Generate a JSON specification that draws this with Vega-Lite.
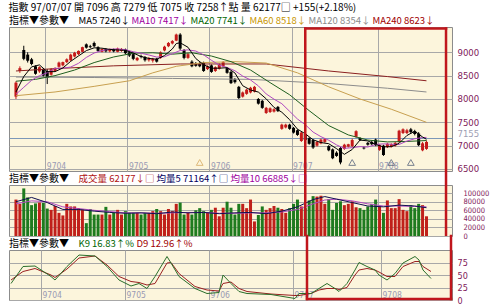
{
"$schema": "https://vega.github.io/schema/vega-lite/v6.json",
"background": "white",
"padding": {"left": 8, "top": 2, "right": 0, "bottom": 0},
"bounds": "flush",
"spacing": 14,
"resolve": {"scale": {"color": "independent", "stroke": "independent"}, "legend": {"color": "independent", "stroke": "independent"}},
"title": {"text": "指數 97/07/07 開 7096 高 7279 低 7075 收 7258↑點 量 62177□ +155(+2.18%)", "anchor": "start", "font": "Noto Sans CJK TC", "fontSize": 10, "fontWeight": "normal", "color": "#000000", "offset": 3},
"config": {
  "view": {"fill": "#fcf5dc", "stroke": "#8c8c8c"},
  "axis": {"ticks": false, "domain": false, "grid": true, "gridColor": "#a8a8a8", "gridWidth": 1, "title": null, "labelOverlap": false, "tickCount": 20},
  "legend": {"orient": "top", "direction": "horizontal", "gridAlign": "none", "titleOrient": "left", "titleFont": "Noto Sans CJK TC", "titleFontSize": 10, "titleFontWeight": "normal", "titleColor": "#000000", "titlePadding": 10, "labelFont": "Noto Sans CJK TC", "labelFontSize": 9.5, "symbolSize": 0, "symbolOpacity": 0, "symbolStrokeWidth": 0, "labelOffset": -10, "columnPadding": 1, "padding": 0, "offset": 1}
},
"datasets": {
"k": [
{"i":0,"o":8050,"h":8380,"l":8000,"c":8350,"v":85000},
{"i":1,"o":8600,"h":8700,"l":8560,"c":8660,"v":75000},
{"i":2,"o":9050,"h":9140,"l":8830,"c":8860,"v":111000},
{"i":3,"o":8950,"h":9000,"l":8780,"c":8820,"v":90000},
{"i":4,"o":8850,"h":8880,"l":8720,"c":8750,"v":72000},
{"i":5,"o":8700,"h":8720,"l":8520,"c":8540,"v":76000},
{"i":6,"o":8590,"h":8700,"l":8560,"c":8680,"v":78000},
{"i":7,"o":8640,"h":8660,"l":8480,"c":8500,"v":77000},
{"i":8,"o":8600,"h":8640,"l":8320,"c":8450,"v":64000},
{"i":9,"o":8520,"h":8660,"l":8500,"c":8640,"v":61000},
{"i":10,"o":8600,"h":8680,"l":8580,"c":8660,"v":70000},
{"i":11,"o":8690,"h":8800,"l":8670,"c":8780,"v":54000},
{"i":12,"o":8720,"h":8800,"l":8700,"c":8790,"v":48000},
{"i":13,"o":8790,"h":8870,"l":8770,"c":8850,"v":75000},
{"i":14,"o":8830,"h":8970,"l":8810,"c":8950,"v":69000},
{"i":15,"o":8910,"h":9010,"l":8890,"c":8990,"v":69000},
{"i":16,"o":8960,"h":9040,"l":8940,"c":9030,"v":65000},
{"i":17,"o":9010,"h":9120,"l":9000,"c":9110,"v":62000},
{"i":18,"o":9170,"h":9190,"l":9080,"c":9100,"v":30000},
{"i":19,"o":9130,"h":9160,"l":9090,"c":9110,"v":63000},
{"i":20,"o":9200,"h":9230,"l":9110,"c":9130,"v":50000},
{"i":21,"o":9110,"h":9130,"l":9010,"c":9030,"v":50000},
{"i":22,"o":9010,"h":9080,"l":9000,"c":9070,"v":50000},
{"i":23,"o":9070,"h":9090,"l":9000,"c":9020,"v":68000},
{"i":24,"o":9020,"h":9080,"l":9000,"c":9060,"v":50000},
{"i":25,"o":9060,"h":9080,"l":9000,"c":9020,"v":54000},
{"i":26,"o":9010,"h":9100,"l":9000,"c":9080,"v":61000},
{"i":27,"o":9030,"h":9090,"l":9010,"c":9070,"v":50000},
{"i":28,"o":9060,"h":9080,"l":8960,"c":8980,"v":58000},
{"i":29,"o":9000,"h":9020,"l":8900,"c":8930,"v":54000},
{"i":30,"o":8960,"h":8990,"l":8830,"c":8860,"v":54000},
{"i":31,"o":8830,"h":8900,"l":8810,"c":8880,"v":54000},
{"i":32,"o":8920,"h":8950,"l":8870,"c":8900,"v":50000},
{"i":33,"o":8900,"h":8920,"l":8800,"c":8830,"v":54000},
{"i":34,"o":8830,"h":8900,"l":8800,"c":8870,"v":54000},
{"i":35,"o":8820,"h":8880,"l":8780,"c":8860,"v":58000},
{"i":36,"o":8860,"h":8880,"l":8780,"c":8800,"v":63000},
{"i":37,"o":8880,"h":9020,"l":8860,"c":9000,"v":58000},
{"i":38,"o":9040,"h":9140,"l":9020,"c":9120,"v":50000},
{"i":39,"o":9130,"h":9220,"l":9110,"c":9200,"v":63000},
{"i":40,"o":9190,"h":9260,"l":9170,"c":9240,"v":58000},
{"i":41,"o":9250,"h":9400,"l":9240,"c":9380,"v":75000},
{"i":42,"o":9380,"h":9410,"l":9050,"c":9080,"v":78000},
{"i":43,"o":9050,"h":9070,"l":8850,"c":8880,"v":50000},
{"i":44,"o":8880,"h":8990,"l":8860,"c":8960,"v":54000},
{"i":45,"o":8800,"h":8830,"l":8680,"c":8700,"v":50000},
{"i":46,"o":8760,"h":8790,"l":8690,"c":8710,"v":60000},
{"i":47,"o":8760,"h":8790,"l":8680,"c":8700,"v":65000},
{"i":48,"o":8780,"h":8800,"l":8580,"c":8600,"v":58000},
{"i":49,"o":8640,"h":8720,"l":8620,"c":8700,"v":54000},
{"i":50,"o":8720,"h":8740,"l":8560,"c":8580,"v":61000},
{"i":51,"o":8600,"h":8700,"l":8580,"c":8680,"v":66000},
{"i":52,"o":8650,"h":8760,"l":8630,"c":8740,"v":46000},
{"i":53,"o":8700,"h":8810,"l":8680,"c":8790,"v":66000},
{"i":54,"o":8660,"h":8680,"l":8540,"c":8560,"v":80000},
{"i":55,"o":8580,"h":8600,"l":8320,"c":8340,"v":66000},
{"i":56,"o":8420,"h":8450,"l":8330,"c":8360,"v":50000},
{"i":57,"o":8260,"h":8280,"l":8000,"c":8020,"v":75000},
{"i":58,"o":8050,"h":8160,"l":8030,"c":8140,"v":75000},
{"i":59,"o":8110,"h":8220,"l":8090,"c":8200,"v":65000},
{"i":60,"o":8140,"h":8260,"l":8120,"c":8240,"v":85000},
{"i":61,"o":8160,"h":8280,"l":8140,"c":8260,"v":34000},
{"i":62,"o":8000,"h":8020,"l":7880,"c":7900,"v":49000},
{"i":63,"o":7960,"h":7980,"l":7790,"c":7810,"v":69000},
{"i":64,"o":7700,"h":7830,"l":7680,"c":7810,"v":61000},
{"i":65,"o":7720,"h":7820,"l":7700,"c":7800,"v":65000},
{"i":66,"o":7730,"h":7800,"l":7710,"c":7780,"v":70000},
{"i":67,"o":7830,"h":7850,"l":7720,"c":7740,"v":66000},
{"i":68,"o":7360,"h":7470,"l":7340,"c":7450,"v":63000},
{"i":69,"o":7390,"h":7470,"l":7370,"c":7450,"v":54000},
{"i":70,"o":7450,"h":7470,"l":7340,"c":7360,"v":65000},
{"i":71,"o":7380,"h":7400,"l":7260,"c":7280,"v":75000},
{"i":72,"o":7330,"h":7350,"l":7210,"c":7230,"v":85000},
{"i":73,"o":7100,"h":7300,"l":7080,"c":7280,"v":69000},
{"i":74,"o":7250,"h":7270,"l":7100,"c":7120,"v":65000},
{"i":75,"o":7160,"h":7180,"l":7020,"c":7040,"v":83000},
{"i":76,"o":7120,"h":7140,"l":6930,"c":6960,"v":93000},
{"i":77,"o":7000,"h":7100,"l":6980,"c":7080,"v":92000},
{"i":78,"o":7050,"h":7150,"l":7030,"c":7130,"v":94000},
{"i":79,"o":7080,"h":7160,"l":7060,"c":7140,"v":75000},
{"i":80,"o":6990,"h":7010,"l":6880,"c":6900,"v":86000},
{"i":81,"o":6920,"h":6940,"l":6710,"c":6730,"v":61000},
{"i":82,"o":6850,"h":6880,"l":6760,"c":6780,"v":77000},
{"i":83,"o":6950,"h":6970,"l":6600,"c":6640,"v":81000},
{"i":84,"o":6930,"h":7040,"l":6910,"c":7020,"v":72000},
{"i":85,"o":6980,"h":7040,"l":6960,"c":7030,"v":75000},
{"i":86,"o":6990,"h":7150,"l":6970,"c":7120,"v":81000},
{"i":87,"o":7190,"h":7330,"l":7170,"c":7310,"v":67000},
{"i":88,"o":7160,"h":7180,"l":7100,"c":7120,"v":65000},
{"i":89,"o":6960,"h":6980,"l":6920,"c":6940,"v":61000},
{"i":90,"o":7060,"h":7080,"l":7000,"c":7020,"v":69000},
{"i":91,"o":7080,"h":7110,"l":7010,"c":7030,"v":75000},
{"i":92,"o":7130,"h":7150,"l":6990,"c":7010,"v":85000},
{"i":93,"o":6910,"h":7030,"l":6890,"c":7010,"v":69000},
{"i":94,"o":7000,"h":7020,"l":6780,"c":6800,"v":54000},
{"i":95,"o":6970,"h":7060,"l":6950,"c":7040,"v":83000},
{"i":96,"o":6980,"h":7050,"l":6960,"c":7030,"v":65000},
{"i":97,"o":7000,"h":7080,"l":6980,"c":7060,"v":65000},
{"i":98,"o":7080,"h":7340,"l":7060,"c":7320,"v":86000},
{"i":99,"o":7270,"h":7370,"l":7250,"c":7350,"v":61000},
{"i":100,"o":7270,"h":7360,"l":7250,"c":7330,"v":58000},
{"i":101,"o":7350,"h":7380,"l":7260,"c":7290,"v":72000},
{"i":102,"o":7310,"h":7340,"l":7220,"c":7250,"v":65000},
{"i":103,"o":7260,"h":7290,"l":6990,"c":7010,"v":75000},
{"i":104,"o":6900,"h":7080,"l":6880,"c":7050,"v":72000},
{"i":105,"o":6930,"h":7110,"l":6910,"c":7080,"v":46000}
],
"ma": [
{"s":"MA240","i":0,"p":8600},{"s":"MA240","i":10,"p":8650},{"s":"MA240","i":25,"p":8710},{"s":"MA240","i":42,"p":8750},{"s":"MA240","i":64,"p":8750},{"s":"MA240","i":80,"p":8600},{"s":"MA240","i":95,"p":8480},{"s":"MA240","i":105,"p":8390},
{"s":"MA120","i":0,"p":8470},{"s":"MA120","i":20,"p":8460},{"s":"MA120","i":40,"p":8440},{"s":"MA120","i":60,"p":8420},{"s":"MA120","i":80,"p":8330},{"s":"MA120","i":95,"p":8230},{"s":"MA120","i":105,"p":8150},
{"s":"MA60","i":0,"p":8070},{"s":"MA60","i":10,"p":8150},{"s":"MA60","i":20,"p":8270},{"s":"MA60","i":29,"p":8390},{"s":"MA60","i":35,"p":8560},{"s":"MA60","i":41,"p":8700},{"s":"MA60","i":48,"p":8780},{"s":"MA60","i":56,"p":8800},{"s":"MA60","i":64,"p":8770},{"s":"MA60","i":72,"p":8560},{"s":"MA60","i":80,"p":8260},{"s":"MA60","i":88,"p":8000},{"s":"MA60","i":96,"p":7780},{"s":"MA60","i":105,"p":7500},
{"s":"MA20","i":0,"p":8380},{"s":"MA20","i":5,"p":8420},{"s":"MA20","i":10,"p":8500},{"s":"MA20","i":15,"p":8620},{"s":"MA20","i":20,"p":8780},{"s":"MA20","i":25,"p":8900},{"s":"MA20","i":30,"p":8980},{"s":"MA20","i":35,"p":8990},{"s":"MA20","i":40,"p":8960},{"s":"MA20","i":45,"p":8990},{"s":"MA20","i":50,"p":8920},{"s":"MA20","i":55,"p":8800},{"s":"MA20","i":60,"p":8620},{"s":"MA20","i":65,"p":8350},{"s":"MA20","i":70,"p":8090},{"s":"MA20","i":75,"p":7750},{"s":"MA20","i":80,"p":7430},{"s":"MA20","i":85,"p":7230},{"s":"MA20","i":90,"p":7120},{"s":"MA20","i":95,"p":7080},{"s":"MA20","i":100,"p":7090},{"s":"MA20","i":105,"p":7110},
{"s":"MA10","i":0,"p":8100},{"s":"MA10","i":2,"p":8250},{"s":"MA10","i":4,"p":8400},{"s":"MA10","i":6,"p":8500},{"s":"MA10","i":8,"p":8560},{"s":"MA10","i":10,"p":8656},{"s":"MA10","i":12,"p":8661},{"s":"MA10","i":14,"p":8684},{"s":"MA10","i":16,"p":8764},{"s":"MA10","i":18,"p":8890},{"s":"MA10","i":20,"p":8984},{"s":"MA10","i":22,"p":9037},{"s":"MA10","i":24,"p":9065},{"s":"MA10","i":26,"p":9073},{"s":"MA10","i":28,"p":9057},{"s":"MA10","i":30,"p":9012},{"s":"MA10","i":32,"p":8980},{"s":"MA10","i":34,"p":8942},{"s":"MA10","i":36,"p":8898},{"s":"MA10","i":38,"p":8905},{"s":"MA10","i":40,"p":8970},{"s":"MA10","i":42,"p":9038},{"s":"MA10","i":44,"p":9052},{"s":"MA10","i":46,"p":9027},{"s":"MA10","i":48,"p":8945},{"s":"MA10","i":50,"p":8829},{"s":"MA10","i":52,"p":8725},{"s":"MA10","i":54,"p":8676},{"s":"MA10","i":56,"p":8605},{"s":"MA10","i":58,"p":8491},{"s":"MA10","i":60,"p":8407},{"s":"MA10","i":62,"p":8281},{"s":"MA10","i":64,"p":8108},{"s":"MA10","i":66,"p":7996},{"s":"MA10","i":68,"p":7899},{"s":"MA10","i":70,"p":7736},{"s":"MA10","i":72,"p":7571},{"s":"MA10","i":74,"p":7449},{"s":"MA10","i":76,"p":7291},{"s":"MA10","i":78,"p":7193},{"s":"MA10","i":80,"p":7116},{"s":"MA10","i":82,"p":7016},{"s":"MA10","i":84,"p":6942},{"s":"MA10","i":86,"p":6957},{"s":"MA10","i":88,"p":6979},{"s":"MA10","i":90,"p":6971},{"s":"MA10","i":92,"p":7024},{"s":"MA10","i":94,"p":7039},{"s":"MA10","i":96,"p":7031},{"s":"MA10","i":98,"p":7026},{"s":"MA10","i":100,"p":7098},{"s":"MA10","i":102,"p":7148},{"s":"MA10","i":104,"p":7173},{"s":"MA10","i":105,"p":7177},
{"s":"MA5","i":0,"p":8150},{"s":"MA5","i":2,"p":8480},{"s":"MA5","i":4,"p":8688},{"s":"MA5","i":6,"p":8730},{"s":"MA5","i":8,"p":8584},{"s":"MA5","i":10,"p":8586},{"s":"MA5","i":12,"p":8664},{"s":"MA5","i":14,"p":8806},{"s":"MA5","i":16,"p":8922},{"s":"MA5","i":18,"p":9036},{"s":"MA5","i":20,"p":9096},{"s":"MA5","i":22,"p":9088},{"s":"MA5","i":24,"p":9062},{"s":"MA5","i":26,"p":9050},{"s":"MA5","i":28,"p":9042},{"s":"MA5","i":30,"p":8984},{"s":"MA5","i":32,"p":8910},{"s":"MA5","i":34,"p":8868},{"s":"MA5","i":36,"p":8852},{"s":"MA5","i":38,"p":8930},{"s":"MA5","i":40,"p":9072},{"s":"MA5","i":41,"p":9188},{"s":"MA5","i":42,"p":9204},{"s":"MA5","i":44,"p":9108},{"s":"MA5","i":46,"p":8866},{"s":"MA5","i":48,"p":8734},{"s":"MA5","i":50,"p":8658},{"s":"MA5","i":52,"p":8660},{"s":"MA5","i":54,"p":8670},{"s":"MA5","i":56,"p":8558},{"s":"MA5","i":58,"p":8284},{"s":"MA5","i":60,"p":8192},{"s":"MA5","i":62,"p":8148},{"s":"MA5","i":64,"p":8004},{"s":"MA5","i":66,"p":7820},{"s":"MA5","i":68,"p":7716},{"s":"MA5","i":70,"p":7556},{"s":"MA5","i":72,"p":7354},{"s":"MA5","i":74,"p":7254},{"s":"MA5","i":76,"p":7126},{"s":"MA5","i":78,"p":7066},{"s":"MA5","i":80,"p":7042},{"s":"MA5","i":82,"p":6936},{"s":"MA5","i":84,"p":6814},{"s":"MA5","i":86,"p":6918},{"s":"MA5","i":88,"p":7120},{"s":"MA5","i":90,"p":7102},{"s":"MA5","i":92,"p":7024},{"s":"MA5","i":94,"p":6974},{"s":"MA5","i":96,"p":6978},{"s":"MA5","i":98,"p":7050},{"s":"MA5","i":100,"p":7218},{"s":"MA5","i":102,"p":7308},{"s":"MA5","i":104,"p":7186},{"s":"MA5","i":105,"p":7136}
],
"vma": [
{"s":"均量10","i":0,"p":75000},{"s":"均量10","i":4,"p":82000},{"s":"均量10","i":8,"p":80000},{"s":"均量10","i":12,"p":68000},{"s":"均量10","i":16,"p":64000},{"s":"均量10","i":20,"p":60000},{"s":"均量10","i":24,"p":57000},{"s":"均量10","i":28,"p":54000},{"s":"均量10","i":32,"p":54000},{"s":"均量10","i":36,"p":53000},{"s":"均量10","i":40,"p":54000},{"s":"均量10","i":44,"p":55000},{"s":"均量10","i":48,"p":55000},{"s":"均量10","i":52,"p":53000},{"s":"均量10","i":56,"p":53000},{"s":"均量10","i":60,"p":54000},{"s":"均量10","i":64,"p":54000},{"s":"均量10","i":68,"p":56000},{"s":"均量10","i":72,"p":62000},{"s":"均量10","i":76,"p":75000},{"s":"均量10","i":79,"p":84000},{"s":"均量10","i":82,"p":86000},{"s":"均量10","i":86,"p":82000},{"s":"均量10","i":90,"p":75000},{"s":"均量10","i":94,"p":70000},{"s":"均量10","i":98,"p":70000},{"s":"均量10","i":102,"p":69000},{"s":"均量10","i":105,"p":68000},
{"s":"均量5","i":0,"p":80000},{"s":"均量5","i":4,"p":90000},{"s":"均量5","i":8,"p":78000},{"s":"均量5","i":12,"p":62000},{"s":"均量5","i":16,"p":62000},{"s":"均量5","i":20,"p":58000},{"s":"均量5","i":24,"p":55000},{"s":"均量5","i":28,"p":53000},{"s":"均量5","i":32,"p":54000},{"s":"均量5","i":36,"p":52000},{"s":"均量5","i":40,"p":56000},{"s":"均量5","i":44,"p":54000},{"s":"均量5","i":48,"p":55000},{"s":"均量5","i":52,"p":52000},{"s":"均量5","i":56,"p":54000},{"s":"均量5","i":60,"p":55000},{"s":"均量5","i":64,"p":52000},{"s":"均量5","i":68,"p":58000},{"s":"均量5","i":72,"p":68000},{"s":"均量5","i":76,"p":85000},{"s":"均量5","i":79,"p":92000},{"s":"均量5","i":82,"p":86000},{"s":"均量5","i":86,"p":78000},{"s":"均量5","i":90,"p":70000},{"s":"均量5","i":94,"p":68000},{"s":"均量5","i":98,"p":72000},{"s":"均量5","i":102,"p":70000},{"s":"均量5","i":105,"p":66000}
],
"kd": [
{"s":"D9","i":0,"p":40},{"s":"D9","i":3,"p":57},{"s":"D9","i":6,"p":63},{"s":"D9","i":10,"p":50},{"s":"D9","i":11,"p":45},{"s":"D9","i":14,"p":62},{"s":"D9","i":17,"p":84},{"s":"D9","i":21,"p":88},{"s":"D9","i":24,"p":70},{"s":"D9","i":27,"p":47},{"s":"D9","i":30,"p":37},{"s":"D9","i":32,"p":35},{"s":"D9","i":34,"p":30},{"s":"D9","i":36,"p":33},{"s":"D9","i":39,"p":74},{"s":"D9","i":40,"p":75},{"s":"D9","i":42,"p":53},{"s":"D9","i":46,"p":27},{"s":"D9","i":49,"p":20},{"s":"D9","i":52,"p":18},{"s":"D9","i":53,"p":33},{"s":"D9","i":55,"p":36},{"s":"D9","i":57,"p":23},{"s":"D9","i":59,"p":17},{"s":"D9","i":65,"p":12},{"s":"D9","i":71,"p":9},{"s":"D9","i":72,"p":9},{"s":"D9","i":75,"p":13},{"s":"D9","i":77,"p":20},{"s":"D9","i":79,"p":23},{"s":"D9","i":81,"p":23},{"s":"D9","i":82,"p":21},{"s":"D9","i":84,"p":25},{"s":"D9","i":86,"p":50},{"s":"D9","i":87,"p":60},{"s":"D9","i":89,"p":63},{"s":"D9","i":91,"p":60},{"s":"D9","i":92,"p":56},{"s":"D9","i":94,"p":47},{"s":"D9","i":96,"p":47},{"s":"D9","i":98,"p":67},{"s":"D9","i":101,"p":77},{"s":"D9","i":102,"p":77},{"s":"D9","i":103,"p":67},{"s":"D9","i":105,"p":57},
{"s":"K9","i":0,"p":33},{"s":"K9","i":3,"p":67},{"s":"K9","i":6,"p":68},{"s":"K9","i":10,"p":47},{"s":"K9","i":11,"p":40},{"s":"K9","i":14,"p":67},{"s":"K9","i":17,"p":90},{"s":"K9","i":21,"p":88},{"s":"K9","i":24,"p":67},{"s":"K9","i":27,"p":40},{"s":"K9","i":30,"p":28},{"s":"K9","i":32,"p":33},{"s":"K9","i":34,"p":23},{"s":"K9","i":36,"p":47},{"s":"K9","i":39,"p":87},{"s":"K9","i":40,"p":74},{"s":"K9","i":42,"p":47},{"s":"K9","i":46,"p":23},{"s":"K9","i":49,"p":13},{"s":"K9","i":52,"p":15},{"s":"K9","i":53,"p":50},{"s":"K9","i":55,"p":33},{"s":"K9","i":57,"p":17},{"s":"K9","i":59,"p":13},{"s":"K9","i":65,"p":11},{"s":"K9","i":71,"p":3},{"s":"K9","i":72,"p":13},{"s":"K9","i":75,"p":13},{"s":"K9","i":77,"p":23},{"s":"K9","i":79,"p":33},{"s":"K9","i":81,"p":23},{"s":"K9","i":82,"p":17},{"s":"K9","i":84,"p":33},{"s":"K9","i":86,"p":60},{"s":"K9","i":87,"p":75},{"s":"K9","i":89,"p":67},{"s":"K9","i":91,"p":60},{"s":"K9","i":92,"p":50},{"s":"K9","i":94,"p":40},{"s":"K9","i":96,"p":53},{"s":"K9","i":98,"p":74},{"s":"K9","i":101,"p":87},{"s":"K9","i":102,"p":80},{"s":"K9","i":103,"p":60},{"s":"K9","i":105,"p":43}
],
"sig": [{"i":47,"t":"a"},{"i":86,"t":"b"},{"i":96,"t":"b"},{"i":101,"t":"b"}],
"hlv": [{"i":74},{"i":110}],
"hlh": [{"i":74,"j":110}]
},
"vconcat": [
{
 "width": 443, "height": 144,
 "encoding": {"x": {"field": "i", "type": "quantitative", "scale": {"domain": [-0.5, 110.25], "nice": false, "zero": false},
   "axis": {"values": [7.5, 28.5, 49.5, 70.5, 92.5], "tickCount": 20, "labelExpr": "{'7.5':'9704','28.5':'9705','49.5':'9706','70.5':'9707','92.5':'9708'}[datum.value]", "labelAlign": "left", "labelPadding": -10, "labelOffset": 1, "labelColor": "#9a9ab4", "labelFont": "DejaVu Sans Condensed, Liberation Sans", "labelFontSize": 8.5}}},
 "layer": [
  {"data": {"name": "k"}, "mark": {"type": "rule", "strokeWidth": 1},
   "encoding": {"y": {"field": "l", "type": "quantitative", "title": null, "scale": {"domain": [6457, 9542], "nice": false, "zero": false},
      "axis": {"orient": "right", "values": [6500, 7000, 7155, 7500, 8000, 8500, 9000], "tickCount": 20, "format": "d", "labelOverlap": false, "labelAlign": "left", "labelPadding": 5, "labelFont": "DejaVu Sans Condensed, Liberation Sans", "labelFontSize": 9.5,
        "labelBaseline": {"condition": {"test": "datum.value === 7155", "value": "bottom"}, "value": "middle"},
        "labelColor": {"condition": {"test": "datum.value === 7155", "value": "#a0a0b4"}, "value": "#80205a"},
        "gridColor": {"condition": {"test": "datum.value === 7155", "value": "#7c98b8"}, "value": "#a8a8a8"}}},
     "y2": {"field": "h"},
     "color": {"condition": {"test": "datum.c >= datum.o", "value": "#c41a1a"}, "value": "#000000"}}},
  {"data": {"name": "k"}, "mark": {"type": "bar", "size": 3},
   "encoding": {"y": {"field": "o", "type": "quantitative", "title": null}, "y2": {"field": "c"},
     "color": {"condition": {"test": "datum.c >= datum.o", "value": "#c41a1a"}, "value": "#000000"}}},
  {"data": {"name": "ma"}, "mark": {"type": "line", "strokeWidth": 1},
   "encoding": {"y": {"field": "p", "type": "quantitative", "title": null},
     "color": {"field": "s", "type": "nominal", "sort": null,
       "scale": {"domain": ["MA5", "MA10", "MA20", "MA60", "MA120", "MA240"], "range": ["#000000", "#b048c0", "#1f5f1f", "#c8a050", "#8c8c8c", "#8b2020"]},
       "legend": {"title": "指標▼參數▼", "labelExpr": "{'MA5':'MA5 7240↓','MA10':'MA10 7417↓','MA20':'MA20 7741↓','MA60':'MA60 8518↓','MA120':'MA120 8354↓','MA240':'MA240 8623↓'}[datum.label]",
         "encode": {"labels": {"update": {"fill": {"signal": "{'MA5':'#000000','MA10':'#a000a0','MA20':'#006400','MA60':'#c89600','MA120':'#8c8c8c','MA240':'#a00000'}[datum.value]"}}}}}}}},
  {"data": {"name": "sig"}, "mark": {"type": "point", "shape": "triangle-up", "filled": false, "size": 45, "strokeWidth": 1},
   "encoding": {"y": {"datum": 6640}, "stroke": {"field": "t", "type": "nominal", "scale": {"domain": ["a", "b"], "range": ["#d2a050", "#405070"]}, "legend": null}}},
  {"data": {"name": "hlv"}, "mark": {"type": "rule", "color": "#c0161c", "strokeWidth": 2.5, "strokeCap": "square"},
   "encoding": {"y": {"datum": 9510}, "y2": {"datum": 6157}}},
  {"data": {"name": "hlh"}, "mark": {"type": "rule", "color": "#c0161c", "strokeWidth": 2.5, "strokeCap": "square"},
   "encoding": {"x2": {"field": "j"}, "y": {"datum": 9510}}}
 ]
},
{
 "width": 443, "height": 51,
 "encoding": {"x": {"field": "i", "type": "quantitative", "scale": {"domain": [-0.5, 110.25], "nice": false, "zero": false},
   "axis": {"values": [7.5, 28.5, 49.5, 70.5, 92.5], "tickCount": 20, "labels": false}}},
 "layer": [
  {"data": {"name": "k"}, "mark": {"type": "bar", "size": 3},
   "encoding": {"y": {"field": "v", "type": "quantitative", "title": null, "scale": {"domain": [0, 119000], "nice": false},
      "axis": {"orient": "right", "values": [0, 20000, 40000, 60000, 80000, 100000], "tickCount": 20, "format": "d", "labelOverlap": false, "labelAlign": "left", "labelPadding": 11, "labelFont": "DejaVu Sans Condensed, Liberation Sans", "labelFontSize": 7.5, "labelColor": "#80205a"}},
     "color": {"condition": {"test": "datum.c >= datum.o", "value": "#c0201a"}, "value": "#1e7b1e"}}},
  {"data": {"name": "vma"}, "mark": {"type": "line", "strokeWidth": 1},
   "encoding": {"y": {"field": "p", "type": "quantitative", "title": null},
     "color": {"field": "s", "type": "nominal", "sort": null,
       "scale": {"domain": ["成交量", "均量5", "均量10"], "range": ["#b01010", "#101050", "#b048c0"]},
       "legend": {"title": "指標▼參數▼", "labelExpr": "{'成交量':'成交量 62177↓□','均量5':'均量5 71164↑□','均量10':'均量10 66885↓□'}[datum.label]",
         "encode": {"labels": {"update": {"fill": {"signal": "{'成交量':'#b01010','均量5':'#000060','均量10':'#a000a0'}[datum.value]"}}}}}}}},
  {"data": {"name": "hlv"}, "mark": {"type": "rule", "color": "#c0161c", "strokeWidth": 2.5}, "encoding": {}}
 ]
},
{
 "width": 443, "height": 50,
 "encoding": {"x": {"field": "i", "type": "quantitative", "scale": {"domain": [-0.5, 110.25], "nice": false, "zero": false},
   "axis": {"values": [7.5, 28.5, 49.5, 70.5, 92.5], "tickCount": 20, "labelExpr": "{'7.5':'9704','28.5':'9705','49.5':'9706','70.5':'9707','92.5':'9708'}[datum.value]", "labelAlign": "left", "labelPadding": -10, "labelOffset": 1, "labelColor": "#9a9ab4", "labelFont": "DejaVu Sans Condensed, Liberation Sans", "labelFontSize": 8.5}}},
 "layer": [
  {"data": {"name": "kd"}, "mark": {"type": "line", "strokeWidth": 1},
   "encoding": {"y": {"field": "p", "type": "quantitative", "title": null, "scale": {"domain": [0, 100], "nice": false},
      "axis": {"orient": "right", "values": [0, 25, 50, 75], "tickCount": 20, "labelOverlap": false, "labelAlign": "left", "labelPadding": 5, "labelFont": "DejaVu Sans Condensed, Liberation Sans", "labelFontSize": 9, "labelColor": "#80205a"}},
     "color": {"field": "s", "type": "nominal", "sort": null,
       "scale": {"domain": ["K9", "D9"], "range": ["#2a6e2a", "#9a2020"]},
       "legend": {"title": "指標▼參數▼", "labelExpr": "{'K9':'K9 16.83↑%','D9':'D9 12.96↑%'}[datum.label]",
         "encode": {"labels": {"update": {"fill": {"signal": "{'K9':'#006400','D9':'#a00000'}[datum.value]"}}}}}}}},
  {"data": {"name": "hlv"}, "mark": {"type": "rule", "color": "#c0161c", "strokeWidth": 2.5, "strokeCap": "square"},
   "encoding": {"y": {"datum": 128}, "y2": {"datum": 2}}},
  {"data": {"name": "hlh"}, "mark": {"type": "rule", "color": "#c0161c", "strokeWidth": 2.5, "strokeCap": "square"},
   "encoding": {"x2": {"field": "j"}, "y": {"datum": 2}}}
 ]
}
]
}
